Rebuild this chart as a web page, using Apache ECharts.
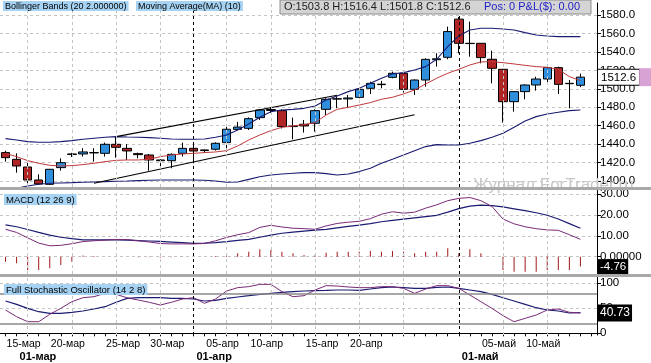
<!DOCTYPE html>
<html><head><meta charset="utf-8">
<script src="https://cdn.jsdelivr.net/npm/echarts@6/dist/echarts.min.js"></script>
<style>html,body{margin:0;padding:0;background:#fff}#c{width:651px;height:363px}</style>
</head><body><div id="c"></div>
<script>
const dates = ['13-мар','14-мар','15-мар','16-мар','17-мар','18-мар','20-мар','21-мар','22-мар','23-мар','24-мар','25-мар','27-мар','28-мар','29-мар','30-мар','31-мар',
'01-апр','03-апр','04-апр','05-апр','06-апр','07-апр','08-апр','10-апр','11-апр','12-апр','13-апр','14-апр','15-апр','17-апр','18-апр','19-апр','20-апр','21-апр','24-апр','25-апр','26-апр','27-апр','28-апр','29-апр',
'01-май','02-май','03-май','04-май','05-май','06-май','08-май','09-май','10-май','11-май','12-май','13-май'];
const openVals  = [1430.8,1423.5,1415.2,1401.1,1396.4,1414.5,1428.8,1429.3,1430.5,1430.0,1439.8,1435.4,1429.7,1428.2,1422.0,1422.0,1430.0,1435.4,1433.7,1434.4,1441.6,1456.0,1457.1,1468.7,1476.5,1476.3,1459.5,1461.5,1462.6,1477.7,1488.8,1489.0,1490.7,1500.5,1505.0,1512.4,1516.8,1499.4,1509.5,1531.5,1534.1,1575.5,1549.3,1549.3,1532.0,1521.1,1486.0,1496.9,1504.1,1510.6,1522.9,1505.9,1503.8];
const closeVals = [1425.3,1416.3,1401.1,1396.8,1412.7,1419.9,1429.3,1431.5,1430.8,1439.8,1436.5,1432.6,1428.6,1422.8,1422.8,1428.9,1435.4,1432.5,1433.0,1440.9,1456.1,1458.5,1467.6,1477.0,1477.5,1459.0,1459.0,1459.7,1476.3,1488.6,1489.2,1490.0,1499.4,1505.9,1504.5,1516.8,1499.4,1509.5,1531.9,1532.5,1562.0,1549.3,1549.0,1533.8,1522.2,1486.0,1496.9,1504.1,1510.6,1522.9,1504.8,1505.5,1512.6];
const lowVals   = [1421.0,1409.0,1397.5,1395.7,1395.7,1411.2,1426.0,1426.5,1421.0,1426.5,1425.3,1422.8,1424.6,1411.2,1413.0,1413.8,1426.5,1419.2,1430.5,1433.0,1431.8,1455.0,1455.3,1466.2,1474.0,1457.0,1445.2,1452.5,1453.5,1471.6,1479.0,1479.0,1489.7,1494.4,1500.5,1511.3,1495.8,1493.3,1502.3,1524.0,1532.0,1538.5,1534.8,1527.6,1505.9,1463.3,1475.2,1488.6,1498.0,1505.9,1494.4,1478.8,1501.8];
const highVals  = [1432.9,1430.0,1421.0,1407.3,1413.0,1424.6,1430.5,1435.6,1435.6,1441.6,1448.0,1440.1,1430.8,1429.3,1423.5,1430.0,1441.6,1439.0,1434.0,1442.0,1459.0,1464.0,1469.0,1477.7,1480.0,1477.7,1468.7,1466.2,1477.7,1489.7,1491.5,1493.3,1500.5,1507.7,1508.5,1518.6,1518.6,1510.3,1533.0,1538.5,1567.4,1577.8,1572.8,1549.5,1541.3,1521.5,1497.6,1504.8,1513.1,1524.0,1524.0,1509.5,1516.4];
const bbUpper = [1445.9,1444.5,1442.7,1442.0,1442.0,1442.7,1443.8,1445.2,1446.3,1447.4,1448.1,1447.7,1447.4,1447.0,1446.3,1445.6,1445.2,1445.2,1445.6,1447.4,1449.9,1455.3,1461.8,1469.1,1475.2,1477.0,1477.7,1478.8,1481.4,1487.9,1492.2,1496.9,1500.5,1505.9,1511.4,1516.1,1517.5,1520.4,1524.0,1532.0,1545.7,1557.3,1563.8,1565.6,1565.6,1564.8,1563.8,1560.9,1558.3,1557.3,1556.5,1556.5,1556.5];
const bbLower = [1390.3,1392.1,1394.6,1396.4,1397.5,1397.9,1398.2,1398.6,1399.0,1399.3,1399.7,1400.0,1400.4,1400.8,1401.1,1401.1,1401.1,1401.1,1400.8,1400.0,1398.6,1399.0,1401.8,1404.7,1406.5,1407.6,1408.4,1409.1,1409.1,1408.0,1406.5,1407.6,1410.2,1413.8,1419.2,1423.5,1428.2,1432.9,1437.3,1439.4,1439.1,1439.1,1440.9,1443.8,1447.4,1451.7,1458.2,1465.1,1469.8,1472.7,1474.5,1476.3,1477.0];
const ma10 = [1430.0,1426.4,1422.1,1419.2,1417.0,1416.3,1416.7,1417.8,1419.2,1421.0,1422.4,1422.8,1422.8,1423.5,1426.4,1428.2,1429.3,1430.0,1430.8,1431.5,1432.9,1438.0,1444.5,1449.9,1454.6,1458.2,1459.7,1461.1,1463.3,1471.6,1477.7,1479.9,1482.4,1485.0,1488.6,1490.8,1494.4,1498.7,1505.2,1511.4,1516.8,1521.1,1525.8,1529.1,1529.4,1528.3,1526.9,1525.4,1524.0,1523.3,1521.1,1513.2,1508.8];
const channelUpper = [[10,1448.1],[30,1493.0]];
const channelLower = [[8,1397.5],[37,1471.9]];
const macdLine = [13.1,11.6,9.0,6.5,5.2,5.4,6.2,7.2,7.6,7.9,8.2,8.2,7.6,7.0,6.3,6.1,6.1,6.1,6.3,7.6,9.2,10.5,11.5,14.0,15.0,14.2,13.6,13.4,13.1,14.7,15.9,16.5,16.9,18.2,20.3,21.5,20.8,21.3,23.2,24.8,26.8,27.9,28.3,26.8,24.0,18.0,15.7,14.3,13.4,12.8,12.6,10.5,8.3];
const macdSignal = [15.2,14.3,13.0,11.6,10.3,9.3,8.6,8.0,8.0,8.0,8.0,7.9,7.7,7.5,7.3,7.0,6.7,6.4,6.5,6.7,7.2,7.8,8.3,9.3,10.3,11.2,11.7,12.2,12.7,13.1,13.8,14.5,15.1,15.8,16.7,17.4,18.0,18.6,19.2,19.8,21.3,23.0,24.2,24.7,24.4,23.8,22.9,22.0,21.0,19.8,18.0,15.8,13.6];
const macdHist = [-2.4,-3.2,-6.4,-6.4,-5.6,-4.0,-2.4,0.5,0.3,0,0,0,-0.3,-0.3,-0.4,-0.3,-0.2,0,0,0.3,0.8,1.6,2.4,3.5,3.2,2.4,1.6,0.8,0.8,1.9,2.4,2.4,2.4,2.7,2.4,2.7,2.4,1.6,2.4,2.4,4.0,1.6,3.5,1.6,0,-6.4,-7.2,-7.2,-7.2,-6.4,-6.4,-6.4,-4.76];
const stochK = [46.6,33.2,23.2,23.2,37.9,49.9,63.2,71.2,73.2,80.0,78.0,71.0,66.6,62.0,56.6,62.0,68.6,71.2,60.0,68.6,84.6,91.3,93.3,97.9,97.9,83.3,73.2,75.2,86.6,95.3,94.6,92.6,91.3,91.3,93.3,93.3,89.9,79.9,88.6,95.3,95.3,89.9,76.6,63.2,49.9,35.2,23.2,29.9,36.6,46.6,48.6,42.0,40.73];
const stochD = [64.6,57.9,49.9,43.2,39.9,39.9,41.9,44.6,48.6,53.2,62.0,69.9,71.2,71.2,71.2,69.9,69.9,68.6,64.6,65.9,69.9,72.6,75.2,77.9,79.9,81.9,83.3,84.6,85.3,85.9,86.6,86.6,85.9,88.6,91.3,92.6,91.3,89.9,89.9,91.9,92.6,89.9,86.6,83.3,77.9,71.2,64.6,57.9,51.2,46.6,44.6,40.6,41.3];
const priceTicks = [1400,1420,1440,1460,1480,1500,1520,1540,1560,1580];
const macdTicks = [0,10,20,30];
const stochTicks = [0,50,100];
const stochLevels = [20,80];
const dayTickLabels = ['15-мар','20-мар','25-мар','30-мар','05-апр','10-апр','15-апр','20-апр','05-май','10-май'];
const monthLabels = ['01-мар','01-апр','01-май'];
const monthLabelIdx = [1,17,41];
const monthLineIdx = [17,41];
const gridLineIdx = [2,6,10,14,20,24,28,32,36,45,49];

const FONT = '"Liberation Sans", Arial, sans-serif';
const cats = dates.concat(['']);
const n = closeVals.length;
const lastO = openVals[n-1], lastH = highVals[n-1], lastL = lowVals[n-1], lastC = closeVals[n-1];
const lastHist = macdHist[n-1], lastK = stochK[n-1];
const HIDDEN = 'rgba(0,0,0,0)';

const chart = echarts.init(document.getElementById('c'), null, {renderer:'canvas'});

function xa(g){
  const bottom = g === 2;
  return {type:'category', gridIndex:g, data:cats, boundaryGap:true,
    axisLine:{show:bottom, lineStyle:{color:'#000', width:1}},
    axisTick:{show:bottom, interval:0, alignWithLabel:true, length:3, lineStyle:{color:'#000'}},
    axisLabel:{show:bottom, interval:(i,v)=>dayTickLabels.includes(v), color:'#000', fontSize:10.5, fontFamily:FONT, margin:4, padding:[0,8,0,0]},
    splitLine:{show:false}};
}
function ya(g, min, max, ticks, fmt){
  return {type:'value', gridIndex:g, position:'right', min:min, max:max,
    axisLine:{show:true, lineStyle:{color:'#000'}},
    axisTick:{show:true, customValues:ticks, length:4, lineStyle:{color:'#000'}},
    axisLabel:{show:true, customValues:ticks, formatter:fmt, color:'#000', fontSize:11.5, fontFamily:FONT, margin:3},
    splitLine:{show:true, lineStyle:{color:'#c4c4c4', type:[3,3], width:1}}};
}
function vlines(g){
  return {type:'line', xAxisIndex:g, yAxisIndex:g, data:[], z:1, silent:true,
    markLine:{silent:true, symbol:['none','none'], animation:false, label:{show:false},
      data: gridLineIdx.map(i=>({xAxis:i, lineStyle:{color:'#c4c4c4', type:[3,3], width:1}}))
        .concat(monthLineIdx.map(i=>({xAxis:i, lineStyle:{color:'#000', type:[3,3], width:1}})))}};
}
function lineSeries(g, data, color, w){
  return {type:'line', xAxisIndex:g, yAxisIndex:g, data:data, symbol:'none', silent:true,
    lineStyle:{color:color, width:w}, z:3};
}
function tagMark(value, text, extra){
  return {silent:true, symbol:['none','none'], animation:false,
    lineStyle:{color:HIDDEN, width:1, type:'solid'},
    data:[{yAxis:value}],
    label:Object.assign({show:true, position:'end', distance:1, formatter:text, color:'#fff', backgroundColor:'#000',
      padding:[2,2,1,2], fontSize:11.5, fontFamily:FONT}, extra || {})};
}

const labelStyle = {font:'9px '+FONT, fill:'#000', backgroundColor:'#a6d3f4', padding:[1,2,0,2]};
const panelLabelStyle = {font:'9.5px '+FONT, fill:'#000', backgroundColor:'#a6d3f4', padding:[1,2,0,2]};

chart.setOption({
  animation:false,
  backgroundColor:'#fff',
  grid:[
    {left:0, right:54, top:3, height:184},
    {left:0, right:54, top:190, height:84},
    {left:0, right:54, top:277, height:58}
  ],
  xAxis:[xa(0), xa(1), xa(2),
    {type:'category', gridIndex:2, data:cats, position:'bottom', offset:12, boundaryGap:true,
      axisLine:{show:false}, axisTick:{show:false}, splitLine:{show:false},
      axisLabel:{interval:(i)=>monthLabelIdx.includes(i), formatter:(v,i)=>monthLabels[monthLabelIdx.indexOf(i)] || '',
        align:'left', fontWeight:'bold', color:'#000', fontSize:11, fontFamily:FONT, margin:4, padding:[0,0,0,3]}}
  ],
  yAxis:[
    ya(0, 1393.5, 1593, priceTicks, v=>v.toFixed(1)),
    ya(1, -8.3, 31.9, macdTicks, v=>v===0?'0.00000':v.toFixed(2)),
    ya(2, -3.4, 112.6, stochTicks, v=>String(v))
  ],
  series:[
    vlines(0), vlines(1), vlines(2),
    {type:'candlestick', xAxisIndex:0, yAxisIndex:0, barWidth:9, silent:true, z:2,
      data: openVals.map((o,i)=>[o, closeVals[i], lowVals[i], highVals[i]]),
      itemStyle:{color:'#2f8fdc', color0:'#b02626', borderColor:'#000', borderColor0:'#000', borderWidth:1},
      markLine:tagMark(lastC, '{a|'+lastC.toFixed(1)+'}{b|}', {backgroundColor:'transparent', padding:0,
          rich:{a:{color:'#000', backgroundColor:'#fff', borderColor:'#000', borderWidth:1, padding:[2,3,1,3], fontSize:11.5, fontFamily:FONT},
                b:{backgroundColor:'#d7a3d5', width:14, height:18}}})},
    lineSeries(0, bbUpper, '#1b1b72', 1.1),
    lineSeries(0, bbLower, '#1b1b72', 1.1),
    lineSeries(0, ma10, '#c0393b', 1),
    lineSeries(0, channelUpper, '#000', 1.1),
    lineSeries(0, channelLower, '#000', 1.1),
    {type:'bar', xAxisIndex:1, yAxisIndex:1, data:macdHist, barWidth:1, silent:true,
      itemStyle:{color:'#a01818'},
      markLine:tagMark(lastHist, String(lastHist))},
    lineSeries(1, macdSignal, '#1b1b72', 1.2),
    lineSeries(1, macdLine, '#7a2a78', 1),
    {type:'line', xAxisIndex:2, yAxisIndex:2, data:stochD, symbol:'none', silent:true, z:3,
      lineStyle:{color:'#1b1b72', width:1.2},
      markLine:{silent:true, symbol:['none','none'], animation:false, label:{show:false},
        lineStyle:{color:'#8a8a8a', type:'solid', width:1.5},
        data: stochLevels.map(v=>({yAxis:v}))}},
    {type:'line', xAxisIndex:2, yAxisIndex:2, data:stochK, symbol:'none', silent:true, z:3,
      lineStyle:{color:'#7a2a78', width:1},
      markLine:tagMark(lastK, lastK.toFixed(2), {fontSize:12, padding:[3,2,2,2]})}
  ],
  graphic:[
    {type:'text', x:473, y:177, z:40, style:{text:'Журнал ForTrader.ru', font:'17px '+FONT, fill:'#c8c8c8'}},
    {type:'rect', z:50, shape:{x:0, y:187, width:651, height:3}, style:{fill:'#a9a9a9'}},
    {type:'rect', z:50, shape:{x:0, y:274, width:651, height:3}, style:{fill:'#a9a9a9'}},
    {type:'text', x:3, y:1, z:60, style:Object.assign({text:'Bollinger Bands (20 2.000000)'}, labelStyle)},
    {type:'text', x:136, y:1, z:60, style:Object.assign({text:'Moving Average(MA) (10)'}, labelStyle)},
    {type:'rect', z:55, shape:{x:280, y:0, width:311, height:14}, style:{fill:'#d4d4d4', stroke:'#8c8c8c', lineWidth:1}},
    {type:'text', x:284, y:1.5, z:60, style:{text:'O:'+lastO.toFixed(1)+' H:'+lastH.toFixed(1)+' L:'+lastL.toFixed(1)+' C:'+lastC.toFixed(1), font:'11px '+FONT, fill:'#222'}},
    {type:'text', x:484, y:1.5, z:60, style:{text:'Pos: 0 P&L($): 0.00', font:'11px '+FONT, fill:'#2020c8'}},
    {type:'text', x:4, y:194, z:60, style:Object.assign({text:'MACD (12 26 9)'}, panelLabelStyle)},
    {type:'text', x:4, y:284, z:60, style:Object.assign({text:'Full Stochastic Oscillator (14 2 8)'}, panelLabelStyle)}
  ]
});
</script></body></html>
